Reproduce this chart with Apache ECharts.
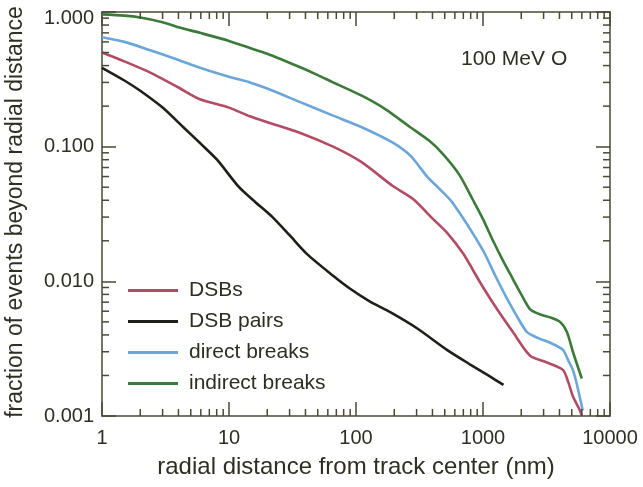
<!DOCTYPE html>
<html>
<head>
<meta charset="utf-8">
<script src="https://cdn.jsdelivr.net/npm/echarts@6/dist/echarts.min.js"></script>
<style>
html,body{margin:0;padding:0;background:#ffffff;}
#chart{width:643px;height:487px;}
</style>
</head>
<body>
<div id="chart"></div>
<script>
// ---- data ----
const dsbs = [[1,0.50],[1.5,0.43],[2.4,0.355],[4,0.275],[5.9,0.225],[10,0.195],[14.6,0.168],[20,0.152],[36,0.127],[66,0.100],[110,0.077],[195,0.051],[280,0.041],[405,0.029],[520,0.023],[700,0.016],[950,0.0098],[1250,0.0065],[1720,0.0042],[2350,0.0028],[3170,0.0025],[4260,0.0022],[4680,0.0018],[5100,0.0014],[5800,0.0011],[6000,0.001]];
const dsbPairs = [[1,0.385],[1.5,0.31],[2,0.26],[3,0.195],[4.35,0.14],[6,0.105],[8.05,0.080],[12,0.050],[16,0.039],[22,0.030],[30,0.022],[41,0.016],[66,0.011],[90,0.0088],[128,0.0071],[186,0.0059],[300,0.0045],[520,0.0031],[800,0.0024],[1100,0.0020],[1450,0.0017]];
const directBreaks = [[1,0.65],[1.5,0.60],[2.4,0.52],[4,0.44],[5.9,0.385],[10,0.33],[14.6,0.30],[20,0.27],[36,0.215],[66,0.17],[110,0.14],[195,0.107],[270,0.085],[363,0.060],[460,0.048],[580,0.038],[1000,0.017],[1250,0.011],[1550,0.0074],[1850,0.0055],[2220,0.0042],[2700,0.0038],[3380,0.0035],[4260,0.0031],[4680,0.0026],[5100,0.0022],[5500,0.0017],[6100,0.0011]];
const indirectBreaks = [[1,0.96],[1.5,0.94],[2,0.91],[3,0.84],[4,0.77],[5.9,0.70],[10,0.61],[14.6,0.54],[20,0.49],[36,0.39],[50,0.34],[66,0.30],[110,0.24],[170,0.19],[266,0.14],[380,0.11],[484,0.088],[650,0.062],[836,0.040],[1000,0.029],[1200,0.020],[1450,0.014],[1720,0.0104],[2000,0.0080],[2350,0.0062],[2800,0.0057],[3380,0.0054],[4040,0.0050],[4580,0.0042],[5100,0.0030],[6000,0.0019]];
const seriesNames = ['DSBs','DSB pairs','direct breaks','indirect breaks'];
const xMinorTicks = [2,3,4,5,6,7,8,9,20,30,40,50,60,70,80,90,200,300,400,500,600,700,800,900,2000,3000,4000,5000,6000,7000,8000,9000];
const yMinorTicks = [0.002,0.003,0.004,0.005,0.006,0.007,0.008,0.009,0.02,0.03,0.04,0.05,0.06,0.07,0.08,0.09,0.2,0.3,0.4,0.5,0.6,0.7,0.8,0.9];
const X_MIN = 1, X_MAX = 10000, Y_MIN = 0.001, Y_MAX = 1;

// ---- styles ----
const AXC = '#4a4a34';
const TXT = '#2e2e22';
const FONT = '"Liberation Sans", Arial, Helvetica, sans-serif';
const colors = ['#b24c64','#1e1e1a','#6aa6da','#3b7a38'];

const chart = echarts.init(document.getElementById('chart'), null, {renderer:'canvas'});

function axisBase(){
  return {
    type:'log', logBase:10,
    axisLine:{show:true, lineStyle:{color:AXC, width:1.5}},
    axisTick:{show:true, inside:true, length:14, lineStyle:{color:AXC, width:1.5}},
    splitLine:{show:false},
    minorTick:{show:false}
  };
}

function tickSeries(values, isX){
  return {
    type:'custom', silent:true, clip:false, z:5,
    xAxisIndex:0, yAxisIndex:0,
    data: values.map(v => isX ? [v, Y_MIN] : [X_MIN, v]),
    renderItem: function(params, api){
      const st = {stroke:AXC, lineWidth:1.5};
      const L = 7;
      if (isX){
        const v = api.value(0);
        const b = api.coord([v, Y_MIN]);
        const t = api.coord([v, Y_MAX]);
        return {type:'group', children:[
          {type:'line', shape:{x1:b[0],y1:b[1],x2:b[0],y2:b[1]-L}, style:st},
          {type:'line', shape:{x1:t[0],y1:t[1],x2:t[0],y2:t[1]+L}, style:st}
        ]};
      } else {
        const v = api.value(1);
        const l = api.coord([X_MIN, v]);
        const r = api.coord([X_MAX, v]);
        return {type:'group', children:[
          {type:'line', shape:{x1:l[0],y1:l[1],x2:l[0]+L,y2:l[1]}, style:st},
          {type:'line', shape:{x1:r[0],y1:r[1],x2:r[0]-L,y2:r[1]}, style:st}
        ]};
      }
    }
  };
}

function lineSeries(name, data, color){
  return {
    name:name, type:'line', data:data, xAxisIndex:0, yAxisIndex:0,
    showSymbol:false, symbol:'none', smooth:0.25,
    lineStyle:{color:color, width:2.6}, itemStyle:{color:color}, z:3
  };
}

const option = {
  backgroundColor:'#ffffff',
  animation:false,
  textStyle:{fontFamily:FONT},
  grid:{left:102, right:33, top:12, bottom:71, containLabel:false},
  xAxis:[
    Object.assign(axisBase(), {position:'bottom', min:X_MIN, max:X_MAX,
      axisLabel:{show:true, color:TXT, fontSize:20, fontFamily:FONT, margin:12, formatter:v=>String(Math.round(v))}}),
    Object.assign(axisBase(), {position:'top', min:X_MIN, max:X_MAX, axisLabel:{show:false}})
  ],
  yAxis:[
    Object.assign(axisBase(), {position:'left', min:Y_MIN, max:Y_MAX,
      axisLabel:{show:true, color:TXT, fontSize:20, fontFamily:FONT, margin:8,
        formatter:v=>{ const s = Number(v).toFixed(3); return Number(v) >= Y_MAX*0.999 ? '{top|'+s+'}' : s; },
        rich:{top:{fontSize:20, fontFamily:FONT, color:TXT, padding:[12,0,0,0]}}}}),
    Object.assign(axisBase(), {position:'right', min:Y_MIN, max:Y_MAX, axisLabel:{show:false}})
  ],
  legend:{
    show:true, orient:'vertical', left:128, top:280, padding:0,
    data:seriesNames, icon:'rect', itemWidth:50, itemHeight:3, itemGap:10,
    textStyle:{color:TXT, fontSize:21, fontFamily:FONT, padding:[0,0,0,6]},
    selectedMode:false
  },
  graphic:[
    {type:'text', left:461, top:49, style:{text:'100 MeV O', fill:TXT, font:'21px '+FONT}},
    {type:'text', x:356, y:467, style:{text:'radial distance from track center (nm)', fill:TXT, font:'24px '+FONT, textAlign:'center', textVerticalAlign:'middle'}},
    {type:'text', x:16, y:212, rotation:Math.PI/2, style:{text:'fraction of events beyond radial distance', fill:TXT, font:'23px '+FONT, textAlign:'center', textVerticalAlign:'middle'}}
  ],
  series:[
    tickSeries(xMinorTicks, true),
    tickSeries(yMinorTicks, false),
    lineSeries(seriesNames[1], dsbPairs, colors[1]),
    lineSeries(seriesNames[0], dsbs, colors[0]),
    lineSeries(seriesNames[2], directBreaks, colors[2]),
    lineSeries(seriesNames[3], indirectBreaks, colors[3])
  ]
};
chart.setOption(option);
</script>
</body>
</html>
